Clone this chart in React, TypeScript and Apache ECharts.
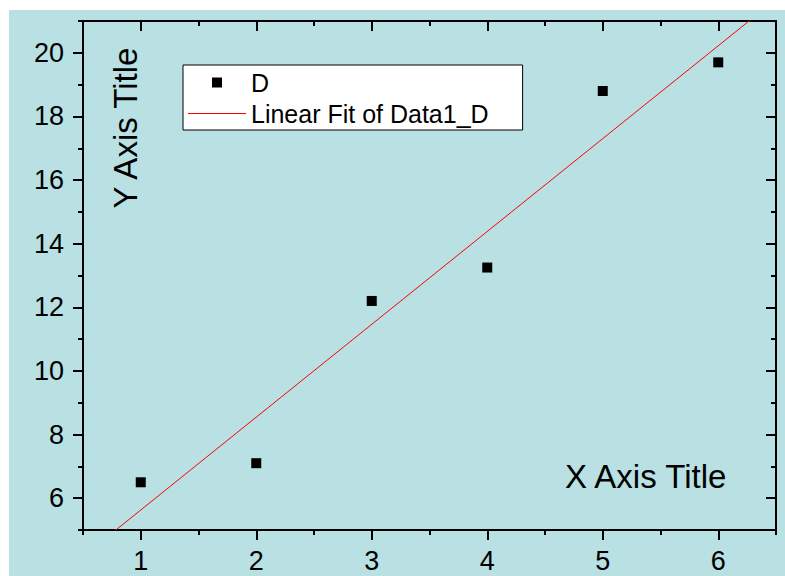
import React, { useEffect, useRef } from "react";
import * as echarts from "echarts";

const xValues = [1, 2, 3, 4, 5, 6];
const yValues = [6.5, 7.1, 12.2, 13.25, 18.8, 19.7];
const xRange = [0.5, 6.5];
const yRange = [5, 21];
const xTicks = [1, 2, 3, 4, 5, 6];
const xMinorTicks = [0.5, 1.5, 2.5, 3.5, 4.5, 5.5, 6.5];
const yTicks = [6, 8, 10, 12, 14, 16, 18, 20];
const yMinorTicks = [5, 7, 9, 11, 13, 15, 17, 19, 21];
const seriesNames = ["D", "Linear Fit of Data1_D"];
const axisTitles = ["X Axis Title", "Y Axis Title"];

const FONT = "'Liberation Sans', Arial, sans-serif";

function linearFit(xs: number[], ys: number[]) {
  const n = xs.length;
  const mx = xs.reduce((a, b) => a + b, 0) / n;
  const my = ys.reduce((a, b) => a + b, 0) / n;
  let sxy = 0;
  let sxx = 0;
  for (let i = 0; i < n; i++) {
    sxy += (xs[i] - mx) * (ys[i] - my);
    sxx += (xs[i] - mx) * (xs[i] - mx);
  }
  const slope = sxy / sxx;
  return { slope, intercept: my - slope * mx };
}

export default function App() {
  const ref = useRef<HTMLDivElement>(null);
  useEffect(() => {
    if (!ref.current) return;
    const chart = echarts.init(ref.current, null, { renderer: "svg" });
    const fit = linearFit(xValues, yValues);
    const fitData = xRange.map((x) => [x, fit.intercept + fit.slope * x]);
    const lineStyle = { color: "#000", width: 2 };
    const baseX = { type: "value", min: xRange[0], max: xRange[1], gridIndex: 0, splitLine: { show: false } };
    const baseY = { type: "value", min: yRange[0], max: yRange[1], gridIndex: 0, splitLine: { show: false } };
    const labelStyle = { color: "#000", fontSize: 27, fontFamily: FONT };
    chart.setOption({
      animation: false,
      backgroundColor: "transparent",
      grid: { left: 74, top: 11, right: 9, bottom: 46, containLabel: false },
      xAxis: [
        {
          ...baseX,
          position: "bottom",
          axisLine: { show: true, lineStyle },
          axisTick: { show: true, inside: false, length: 10, lineStyle, customValues: xTicks },
          axisLabel: { show: true, margin: 17, ...labelStyle, customValues: xTicks },
        },
        {
          ...baseX,
          position: "bottom",
          axisLine: { show: false },
          axisTick: { show: true, inside: false, length: 5, lineStyle, customValues: xMinorTicks },
          axisLabel: { show: false },
        },
        {
          ...baseX,
          position: "top",
          axisLine: { show: true, lineStyle },
          axisTick: { show: true, inside: true, length: 10, lineStyle, customValues: xTicks },
          axisLabel: { show: false },
        },
        {
          ...baseX,
          position: "top",
          axisLine: { show: false },
          axisTick: { show: true, inside: true, length: 5, lineStyle, customValues: xMinorTicks },
          axisLabel: { show: false },
        },
      ],
      yAxis: [
        {
          ...baseY,
          position: "left",
          axisLine: { show: true, lineStyle },
          axisTick: { show: true, inside: false, length: 10, lineStyle, customValues: yTicks },
          axisLabel: { show: true, margin: 19, ...labelStyle, customValues: yTicks },
        },
        {
          ...baseY,
          position: "left",
          axisLine: { show: false },
          axisTick: { show: true, inside: false, length: 5, lineStyle, customValues: yMinorTicks },
          axisLabel: { show: false },
        },
        {
          ...baseY,
          position: "right",
          axisLine: { show: true, lineStyle },
          axisTick: { show: true, inside: true, length: 10, lineStyle, customValues: yTicks },
          axisLabel: { show: false },
        },
        {
          ...baseY,
          position: "right",
          axisLine: { show: false },
          axisTick: { show: true, inside: true, length: 5, lineStyle, customValues: yMinorTicks },
          axisLabel: { show: false },
        },
      ],
      legend: {
        show: true,
        orient: "vertical",
        left: 174,
        top: 55,
        backgroundColor: "#fff",
        borderColor: "#000",
        borderWidth: 1,
        borderRadius: 0,
        padding: [5, 34, 4, 5],
        itemWidth: 58,
        itemHeight: 10,
        itemGap: 6,
        symbolKeepAspect: true,
        textStyle: { color: "#000", fontSize: 25, lineHeight: 25, fontFamily: FONT },
        data: [
          { name: seriesNames[0], icon: "path://M0 0H10V10H0Z" },
          { name: seriesNames[1], icon: "path://M0 0H58V1H0Z" },
        ],
      },
      graphic: [
        {
          type: "text",
          x: 116,
          y: 118,
          rotation: Math.PI / 2,
          style: {
            text: axisTitles[1],
            fill: "#000",
            font: `33px ${FONT}`,
            textAlign: "center",
            textVerticalAlign: "middle",
          },
        },
        {
          type: "text",
          x: 556,
          y: 466,
          style: {
            text: axisTitles[0],
            fill: "#000",
            font: `33px ${FONT}`,
            textAlign: "left",
            textVerticalAlign: "middle",
          },
        },
      ],
      series: [
        {
          name: seriesNames[0],
          type: "scatter",
          xAxisIndex: 0,
          yAxisIndex: 0,
          symbol: "rect",
          symbolSize: 10,
          itemStyle: { color: "#000", opacity: 1 },
          data: xValues.map((x, i) => [x, yValues[i]]),
          z: 3,
        },
        {
          name: seriesNames[1],
          type: "line",
          xAxisIndex: 0,
          yAxisIndex: 0,
          symbol: "none",
          showSymbol: false,
          clip: true,
          lineStyle: { color: "#ff0000", width: 1 },
          itemStyle: { color: "#ff0000" },
          data: fitData,
          z: 2,
        },
      ],
    });
    return () => chart.dispose();
  }, []);
  return (
    <div
      ref={ref}
      style={{
        position: "absolute",
        left: 9,
        top: 10,
        width: 776,
        height: 566,
        background: "#b9e0e3",
      }}
    />
  );
}
